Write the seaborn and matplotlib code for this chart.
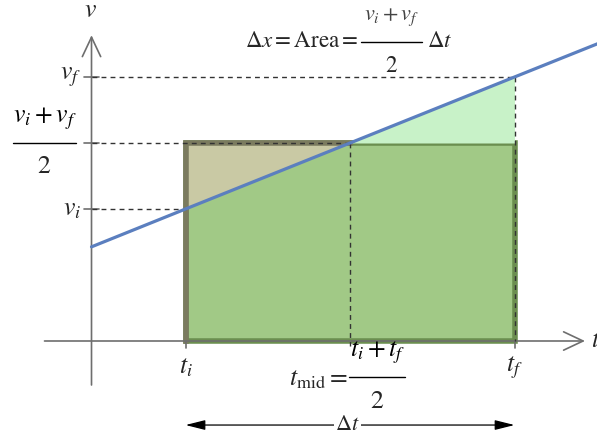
import matplotlib
matplotlib.use("Agg")
import matplotlib.pyplot as plt
import seaborn as sns
import pandas as pd
from matplotlib.patches import Rectangle

# ---- data (diagram values) ----
t_i, t_f = 2.0, 9.0
v_i, v_f = 3.0, 6.0
t_mid = (t_i + t_f) / 2
v_mid = (v_i + v_f) / 2
t_line = [0.0, 2.0, 9.0, 10.8]
v_line = [2.14, 3.0, 6.0, 6.77]

sns.set_theme(style="white")
plt.rcParams["mathtext.fontset"] = "stix"
plt.rcParams["font.family"] = ["STIXGeneral", "DejaVu Serif"]

fig = plt.figure(figsize=(5.97, 4.33), dpi=100)
ax = fig.add_axes([0, 0, 1, 1])

GREEN = "#a1c986"
GREEN_E = "#6b8e4f"
KHAKI = "#c9c9a4"
GRAY_E = "#7b7b5f"
LIGHT = "#c8f2c8"
BLUE = "#5b7fbf"
AX = "#6e6e6e"
DASH = "#333333"

# rectangle (area)
ax.add_patch(Rectangle((t_i, 0), t_f - t_i, v_mid, facecolor=GREEN,
                       edgecolor=GREEN_E, lw=4, zorder=2))
# khaki triangle above line, left half
ax.fill_between([t_i, t_mid], [v_i, v_mid], [v_mid, v_mid], color=KHAKI, lw=0, zorder=2.1)
# light-green triangle above rectangle, right half
ax.fill_between([t_mid, t_f], [v_mid, v_mid], [v_mid, v_f], color=LIGHT, lw=0, zorder=2.1)
# gray border on left part
ax.plot([t_i, t_i, t_mid], [0, v_mid, v_mid], color=GRAY_E, lw=4, zorder=2.2,
        solid_capstyle="projecting", solid_joinstyle="miter")

# axes lines with open arrows
ax.annotate("", xy=(10.5, 0), xytext=(-1.0, 0),
            arrowprops=dict(arrowstyle="->,head_length=0.7,head_width=0.33",
                            mutation_scale=20, color=AX, lw=1.2, shrinkA=0, shrinkB=0), zorder=3)
ax.annotate("", xy=(0, 6.95), xytext=(0, -1.0),
            arrowprops=dict(arrowstyle="->,head_length=0.7,head_width=0.33",
                            mutation_scale=20, color=AX, lw=1.2, shrinkA=0, shrinkB=0), zorder=3)

# dashed guide lines
dkw = dict(color=DASH, lw=1.0, ls=(0, (3.5, 3)), zorder=3.5)
ax.plot([0, t_f], [v_f, v_f], **dkw)
ax.plot([0, t_mid], [v_mid, v_mid], **dkw)
ax.plot([0, t_i], [v_i, v_i], **dkw)
ax.plot([t_mid, t_mid], [v_mid, -0.12], **dkw)
ax.plot([t_f, t_f], [v_f, 0], **dkw)

# ticks
for v in (v_f, v_mid, v_i):
    ax.plot([-0.15, 0.15], [v, v], color=AX, lw=1.2, zorder=3)
for t in (t_i, t_f):
    ax.plot([t, t], [0, -0.17], color=AX, lw=1.2, zorder=3)

# velocity line
df = pd.DataFrame({"t": t_line, "v": v_line})
sns.lineplot(data=df, x="t", y="v", ax=ax, color=BLUE, lw=2.3, zorder=4)
ax.set_xlim(-1.947, 10.755)
ax.set_ylim(-2.091, 7.75)
ax.axis("off")

FS = 18.5
def frac(xc, yc, num, den, half_w, dy, fs=FS, color="black", num_fs=None):
    ax.text(xc, yc + dy, num, ha="center", va="center", fontsize=num_fs or fs, color=color)
    ax.text(xc, yc - dy, den, ha="center", va="center", fontsize=fs)
    ax.plot([xc - half_w, xc + half_w], [yc, yc], color="black", lw=1.0, zorder=5)

# axis labels
ax.text(-0.03, 7.5, r"$v$", ha="center", va="center", fontsize=FS)
ax.text(10.62, 0.0, r"$t$", ha="left", va="center", fontsize=FS)

# v labels
ax.text(-0.22, v_f, r"$v_f$", ha="right", va="center", fontsize=FS)
ax.text(-0.22, v_i, r"$v_i$", ha="right", va="center", fontsize=FS)
frac(-1.0, v_mid, r"$v_i + v_f$", r"$2$", 0.68, 0.55)

# t labels
ax.text(t_i, -0.6, r"$t_i$", ha="center", va="center", fontsize=FS)
ax.text(t_f, -0.62, r"$t_f$", ha="center", va="center", fontsize=FS)
frac(6.08, -0.82, r"$t_i + t_f$", r"$2$", 0.6, 0.56)
ax.text(5.45, -0.88, r"$t_{\mathrm{mid}} =$", ha="right", va="center", fontsize=FS)

# title equation
ax.text(5.68, 6.8, r"$\Delta x = \mathrm{Area} =$", ha="right", va="center", fontsize=16.5)
frac(6.39, 6.8, r"$v_i + v_f$", r"$2$", 0.65, 0.56, fs=16.5, num_fs=16, color="#444444")
ax.text(7.13, 6.8, r"$\Delta t$", ha="left", va="center", fontsize=16.5)

# delta t arrow
ax.annotate("", xy=(t_f, -1.91), xytext=(t_i, -1.91),
            arrowprops=dict(arrowstyle="<|-|>,head_length=0.6,head_width=0.15",
                            mutation_scale=20, color="black", lw=0.9, shrinkA=0, shrinkB=0))
ax.text(5.44, -2.03, r"$\Delta t$", ha="center", va="baseline", fontsize=16,
        bbox=dict(facecolor="white", edgecolor="none", pad=1.0))

fig.savefig("out.png", dpi=100)
